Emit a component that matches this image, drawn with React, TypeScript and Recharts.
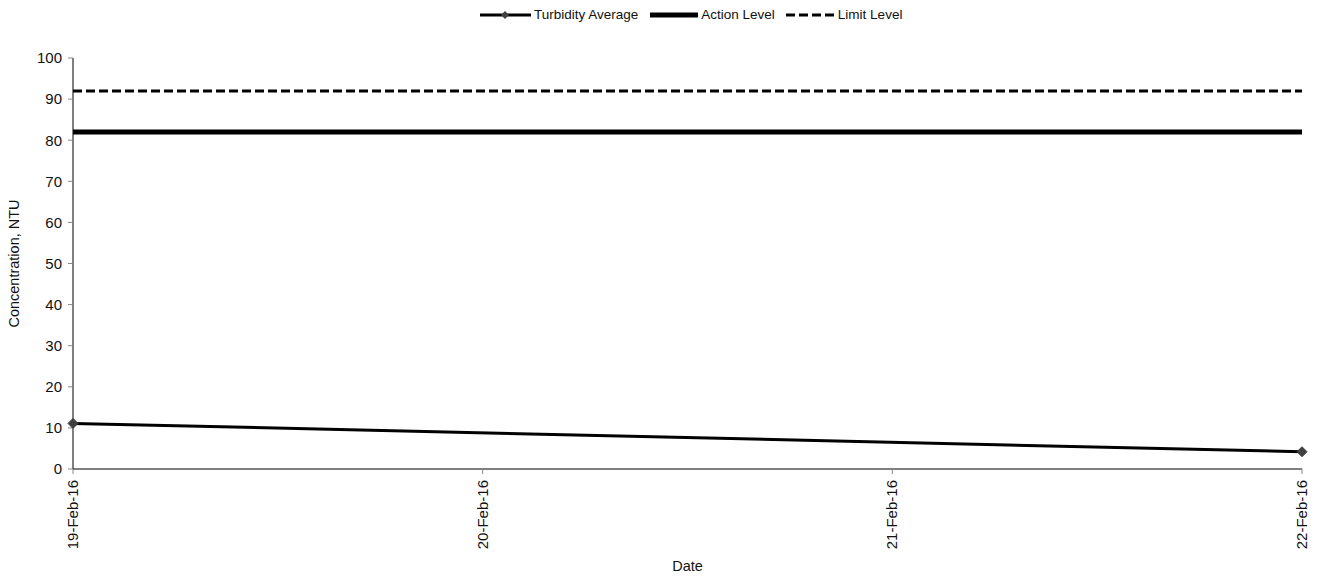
import React from 'react'
import { LineChart, Line, XAxis, YAxis, Legend, Label } from 'recharts'

// day offsets from 19-Feb-16
const days = [0, 3]
const turbidity = [11.1, 4.2]
const actionLevel = [82, 82]
const limitLevel = [92, 92]

const dateTicks = [0, 1, 2, 3]
const dateLabels = ['19-Feb-16', '20-Feb-16', '21-Feb-16', '22-Feb-16']
const yTicks = [0, 10, 20, 30, 40, 50, 60, 70, 80, 90, 100]

const data = days.map((d, i) => ({
    day: d,
    turbidity: turbidity[i],
    action: actionLevel[i],
    limit: limitLevel[i]
}))

const font = 'Liberation Sans, Arial, sans-serif'

function Diamond(props: any) {
    const { cx, cy } = props
    if (cx == null || cy == null) return null
    const r = 5
    return (
        <polygon
            points={`${cx},${cy - r} ${cx + r},${cy} ${cx},${cy + r} ${cx - r},${cy}`}
            fill="#404040"
            stroke="#404040"
        />
    )
}

function DateTick(props: any) {
    const { x, y, payload } = props
    return (
        <text
            x={x}
            y={y}
            transform={`rotate(-90, ${x}, ${y})`}
            dx={-4}
            dy={5}
            textAnchor="end"
            fontSize={15}
            fontFamily={font}
            fill="#111"
        >
            {dateLabels[payload.value]}
        </text>
    )
}

function LegendContent() {
    const text = { fontSize: 13.5, fontFamily: font, color: '#111', marginLeft: 3 }
    return (
        <div style={{ display: 'flex', alignItems: 'center' }}>
            <div style={{ display: 'flex', alignItems: 'center', marginRight: 12 }}>
                <svg width={51} height={12}>
                    <line x1={0} y1={6} x2={51} y2={6} stroke="#000" strokeWidth={3} />
                    <polygon points="25,2 29,6 25,10 21,6" fill="#404040" />
                </svg>
                <span style={text}>Turbidity Average</span>
            </div>
            <div style={{ display: 'flex', alignItems: 'center', marginRight: 11 }}>
                <svg width={48} height={12}>
                    <line x1={0} y1={6} x2={48} y2={6} stroke="#000" strokeWidth={5} />
                </svg>
                <span style={text}>Action Level</span>
            </div>
            <div style={{ display: 'flex', alignItems: 'center' }}>
                <svg width={49} height={12}>
                    <line x1={0} y1={6} x2={49} y2={6} stroke="#000" strokeWidth={3} strokeDasharray="9 4" />
                </svg>
                <span style={text}>Limit Level</span>
            </div>
        </div>
    )
}

export default function App() {
    return (
        <div style={{ position: 'absolute', left: 0, top: 0, width: 1323, height: 579, background: '#fff' }}>
            <LineChart
                width={1323}
                height={579}
                data={data}
                margin={{ top: 38, right: 21, bottom: 5, left: 5 }}
            >
                <Legend
                    verticalAlign="top"
                    align="left"
                    content={<LegendContent />}
                    wrapperStyle={{ top: 7, left: 480, width: 500, height: 20 }}
                />
                <XAxis
                    dataKey="day"
                    type="number"
                    domain={[0, 3]}
                    ticks={dateTicks}
                    tick={<DateTick />}
                    tickSize={5}
                    axisLine={{ stroke: '#000' }}
                    tickLine={{ stroke: '#888' }}
                    height={105}
                    interval={0}
                >
                    <Label
                        value="Date"
                        position="insideBottom"
                        offset={3}
                        style={{ fontSize: 14.5, fontFamily: font, fill: '#111' }}
                    />
                </XAxis>
                <YAxis
                    domain={[0, 100]}
                    ticks={yTicks}
                    width={68}
                    tickSize={5}
                    axisLine={{ stroke: '#000' }}
                    tickLine={{ stroke: '#888' }}
                    tick={{ fontSize: 15, fontFamily: font, fill: '#111', dx: -4 }}
                    interval={0}
                >
                    <Label
                        value="Concentration, NTU"
                        angle={-90}
                        position="insideLeft"
                        offset={9}
                        style={{ textAnchor: 'middle', fontSize: 14.5, fontFamily: font, fill: '#111' }}
                    />
                </YAxis>
                <Line
                    dataKey="limit"
                    stroke="#000"
                    strokeWidth={3}
                    strokeDasharray="9 4"
                    dot={false}
                    isAnimationActive={false}
                />
                <Line
                    dataKey="action"
                    stroke="#000"
                    strokeWidth={5}
                    dot={false}
                    isAnimationActive={false}
                />
                <Line
                    dataKey="turbidity"
                    stroke="#000"
                    strokeWidth={3}
                    dot={<Diamond />}
                    activeDot={false}
                    isAnimationActive={false}
                />
            </LineChart>
        </div>
    )
}
